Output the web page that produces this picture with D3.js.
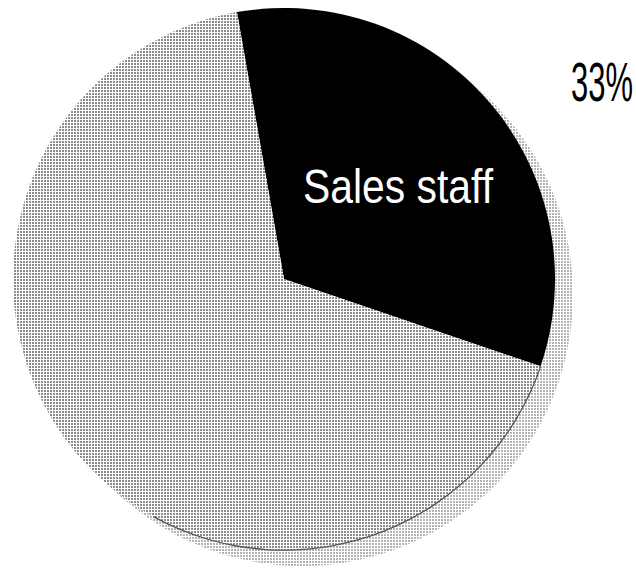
<!DOCTYPE html>
<html>
<head>
<meta charset="utf-8">
<script src="https://cdn.jsdelivr.net/npm/d3@7"></script>
<style>
  html, body { margin: 0; padding: 0; background: #fff; }
  svg { display: block; }
</style>
</head>
<body>
<svg id="chart" width="636" height="569"></svg>
<script>
// Share of staff by group
const categories = ["Sales staff", "Other"];
const values = [33, 67];
const percentLabels = ["33%", ""];

const width = 636, height = 569;
const cx = 284, cy = 279, radius = 271;
const shadowDx = 18, shadowDy = 16;
const startDeg = -10;

const svg = d3.select("#chart");
const defs = svg.append("defs");

// Halftone dot screens for the grey fills
function screen(id, dot, bg) {
  const p = defs.append("pattern")
    .attr("id", id).attr("patternUnits", "userSpaceOnUse")
    .attr("width", 3).attr("height", 3);
  p.append("rect").attr("width", 3).attr("height", 3).attr("fill", bg);
  p.append("rect").attr("width", 2).attr("height", 2).attr("fill", dot);
}
screen("dots", "#8c8c8c", "#ffffff");
screen("dotsLight", "#b4b4b4", "#ffffff");

const pie = d3.pie().sort(null).value(d => d)
  .startAngle(startDeg * Math.PI / 180)
  .endAngle((startDeg + 360) * Math.PI / 180);
const arcs = pie(values);
const arc = d3.arc().innerRadius(0).outerRadius(radius);

// Drop shadow disc
svg.append("circle")
  .attr("cx", cx + shadowDx).attr("cy", cy + shadowDy).attr("r", radius)
  .attr("fill", "url(#dotsLight)");

const g = svg.append("g").attr("transform", `translate(${cx},${cy})`);

g.selectAll("path.slice")
  .data(arcs)
  .join("path")
  .attr("class", "slice")
  .attr("d", arc)
  .attr("fill", (d, i) => i === 0 ? "#000" : "url(#dots)");

// Rim line along the lower-right edge of the grey slice
const rim = d3.arc().innerRadius(radius - 0.5).outerRadius(radius + 0.8)
  .startAngle(arcs[0].endAngle)
  .endAngle(arcs[0].endAngle + 100 * Math.PI / 180);
g.append("path").attr("d", rim()).attr("fill", "#555");

// Label inside the black slice
const fontNarrow = "'Liberation Sans Narrow', 'Arial Narrow', 'Liberation Sans', sans-serif";
g.append("text")
  .attr("x", 303 - cx).attr("y", 203 - cy)
  .attr("fill", "#fff")
  .attr("font-family", fontNarrow)
  .attr("font-size", 48)
  .attr("textLength", 190)
  .attr("lengthAdjust", "spacingAndGlyphs")
  .text(categories[0]);

// Percentage outside the pie
svg.append("text")
  .attr("x", 571).attr("y", 101)
  .attr("fill", "#000")
  .attr("font-family", fontNarrow)
  .attr("font-size", 56)
  .attr("textLength", 62)
  .attr("lengthAdjust", "spacingAndGlyphs")
  .text(percentLabels[0]);
</script>
</body>
</html>
